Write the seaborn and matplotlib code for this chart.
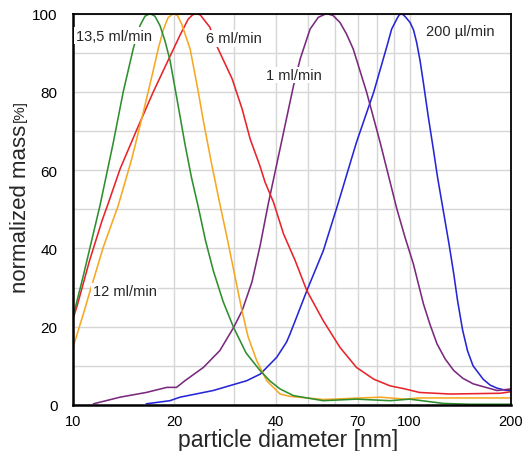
import numpy as np
import pandas as pd
import matplotlib
matplotlib.use("Agg")
import matplotlib.pyplot as plt
import seaborn as sns
from matplotlib.ticker import FixedLocator, NullFormatter

# ---------------- data ----------------
series_names = ["200 µl/min", "1 ml/min", "6 ml/min", "12 ml/min", "13,5 ml/min"]
series_colors = ["#2626d6", "#7a2a7e", "#e8242a", "#f7a823", "#2f8f2f"]

blue_d = [16.5, 19.4, 20.8, 26.1, 32.8, 36.0, 40.3, 43.1, 44.1, 45.7, 49.5, 55.4, 61.2, 69.5,
          78.2, 85.7, 88.4, 91.6, 93.0, 94.7, 97.0, 100.3, 102.7, 104.9, 107.4, 109.9, 113.6,
          117.7, 121.0, 124.9, 130.9, 135.2, 138.8, 143.6, 148.6, 154.3, 165.3, 173.3, 181.8,
          192.0, 200.0]
blue_v = [0.3, 1.1, 2.0, 3.7, 6.2, 7.9, 12.2, 16.1, 18.1, 21.5, 29.2, 39.4, 51.3, 67.1,
          79.9, 91.8, 96.0, 98.6, 99.6, 100.0, 99.2, 97.7, 95.8, 92.6, 87.9, 82.2, 73.6,
          65.1, 58.2, 51.3, 41.1, 33.5, 26.6, 19.2, 13.8, 10.0, 6.6, 5.1, 4.3,
          3.8, 3.7]

purple_d = [11.5, 13.8, 16.5, 19.0, 20.3, 21.5, 24.4, 27.3, 30.0, 31.8, 34.0, 36.0, 38.0, 41.2,
            44.1, 45.2, 47.3, 50.6, 53.5, 56.6, 59.2, 62.1, 64.9, 68.0, 74.5, 81.7, 91.6,
            96.9, 102.6, 109.9, 115.0, 120.6, 127.4, 135.2, 144.0, 154.5, 181.8, 200.0]
purple_v = [0.3, 2.0, 3.2, 4.5, 4.5, 6.2, 9.6, 13.9, 19.8, 24.1, 31.4, 40.9, 51.3, 65.4,
            77.3, 81.6, 88.4, 96.0, 99.0, 100.0, 99.5, 97.7, 94.8, 90.9, 79.9, 67.1, 50.1,
            42.8, 36.0, 25.8, 20.5, 15.6, 11.8, 8.8, 6.8, 5.4, 3.7, 4.1]

red_d = [10.0, 10.3, 11.2, 12.2, 12.7, 13.8, 15.5, 17.3, 19.4, 20.8, 22.0, 22.7, 23.3, 23.9,
         24.4, 25.5, 26.7, 29.7, 31.8, 33.6, 35.9, 37.2, 39.4, 42.2, 45.7, 49.5, 55.4, 62.1,
         69.5, 78.2, 87.4, 96.9, 107.0, 132.0, 186.0, 200.0]
red_v = [22.0, 25.5, 36.9, 47.1, 51.3, 60.3, 70.5, 79.9, 89.0, 94.5, 98.6, 99.7, 100.0, 99.6,
         98.6, 96.5, 91.8, 83.3, 75.6, 67.9, 61.1, 56.9, 51.8, 43.7, 36.9, 29.2, 21.5, 14.7,
         9.6, 6.6, 4.9, 4.1, 3.2, 2.8, 3.0, 3.4]

yellow_d = [10.0, 10.73, 11.23, 12.3, 13.63, 14.94, 15.99, 17.32, 17.89, 18.54, 19.15, 19.86,
            20.44, 21.03, 22.27, 23.57, 24.36, 25.83, 27.34, 28.64, 31.76, 33.1, 35.14, 37.62,
            41.21, 44.13, 55.4, 81.7, 96.9, 107.0, 200.0]
yellow_v = [14.7, 23.2, 29.0, 40.3, 51.0, 62.8, 73.0, 85.5, 90.8, 95.8, 98.9, 100.0,
            99.5, 97.3, 91.0, 79.9, 72.8, 61.4, 51.1, 43.0, 24.1, 17.5, 11.3, 6.2,
            2.8, 2.2, 1.4, 2.0, 1.5, 1.8, 1.8]

green_d = [10.0, 10.73, 12.03, 13.17, 14.10, 15.10, 15.81, 16.36, 16.93, 17.52, 18.13, 18.76,
           19.42, 20.33, 21.52, 22.5, 23.57, 24.75, 26.11, 27.9, 29.99, 32.66, 35.95, 38.5,
           41.21, 45.16, 55.4, 69.5, 87.4, 100.0, 126.0, 150.0, 200.0]
green_v = [22.5, 33.0, 51.0, 67.0, 80.0, 91.0, 96.9, 99.3, 100.0, 99.3, 96.9, 93.0,
           88.0, 78.5, 66.5, 58.0, 50.5, 42.0, 34.3, 26.5, 19.8, 13.3, 8.8, 6.1,
           4.1, 2.4, 1.1, 1.5, 1.1, 1.5, 0.4, 0.2, 0.2]

label_texts = ["13,5 ml/min", "6 ml/min", "1 ml/min", "200 µl/min", "12 ml/min"]
label_d = [10.2, 24.9, 37.4, 111.9, 11.44]
label_v = [94.3, 93.7, 84.3, 95.6, 29.0]

x_tick_values = [10, 20, 40, 70, 100, 200]
x_grid_values = [10, 20, 30, 40, 50, 60, 70, 80, 90, 100]
y_major = [0, 20, 40, 60, 80, 100]
y_minor = [10, 30, 50, 70, 90]

# ---------------- build a long table ----------------
frames = []
for name, d, v in zip(series_names,
                      [blue_d, purple_d, red_d, yellow_d, green_d],
                      [blue_v, purple_v, red_v, yellow_v, green_v]):
    frames.append(pd.DataFrame({"diameter": d, "mass": v, "series": name}))
df = pd.concat(frames, ignore_index=True)

sns.set_style("white")
plt.rcParams["font.family"] = ["Liberation Sans", "DejaVu Sans"]

fig = plt.figure(figsize=(5.25, 4.52), dpi=100)
ax = fig.add_axes([73 / 525, 1 - 406 / 452, (511 - 73) / 525, (406 - 14.5) / 452])

for name, color in zip(series_names, series_colors):
    sub = df[df["series"] == name]
    sns.lineplot(data=sub, x="diameter", y="mass", color=color, estimator=None,
                 sort=False, linewidth=1.15, legend=False, ax=ax)

ax.set_xscale("log")
ax.set_xlim(10, 200)
ax.set_ylim(0, 100)

ax.xaxis.set_major_locator(FixedLocator(x_tick_values))
ax.set_xticklabels([str(t) for t in x_tick_values])
ax.xaxis.set_minor_locator(FixedLocator(x_grid_values))
ax.xaxis.set_minor_formatter(NullFormatter())
ax.yaxis.set_major_locator(FixedLocator(y_major))
ax.yaxis.set_minor_locator(FixedLocator(y_minor))

ax.grid(False)
for g in x_grid_values:
    ax.axvline(g, color="#d6d6d6", lw=1.0, zorder=0)
for g in y_major + y_minor:
    ax.axhline(g, color="#d6d6d6", lw=1.0, zorder=0)

ax.tick_params(axis="x", which="major", length=3, width=1, direction="out",
               labelsize=10.5, pad=3.5, colors="black")
ax.tick_params(axis="x", which="minor", length=0)
ax.tick_params(axis="y", which="both", length=3, width=1, direction="out",
               labelsize=11, pad=8, colors="black")

for side in ["left", "bottom"]:
    ax.spines[side].set_linewidth(1.8)
    ax.spines[side].set_color("black")
for side in ["top", "right"]:
    ax.spines[side].set_linewidth(1.3)
    ax.spines[side].set_color("black")

ax.set_xlabel("")
ax.set_ylabel("")
fig.text(288 / 525, 1 - 447.5 / 452, "particle diameter [nm]", ha="center", va="baseline",
         fontsize=16.5)

for t, d, v in zip(label_texts, label_d, label_v):
    ax.text(d, v, t, fontsize=10.5, ha="left", va="center", zorder=5,
            bbox=dict(facecolor="white", edgecolor="none", pad=1.0))

ylab = fig.text(20 / 525, 1 - 293 / 452, "normalized mass", rotation=90,
                ha="center", va="bottom", fontsize=16)
ax.annotate("[%]", xy=(0.5, 1.0), xycoords=ylab, xytext=(0, 2),
            textcoords="offset points", rotation=90, ha="center", va="bottom",
            fontsize=11)

fig.savefig("out.png", dpi=100, facecolor="white")
